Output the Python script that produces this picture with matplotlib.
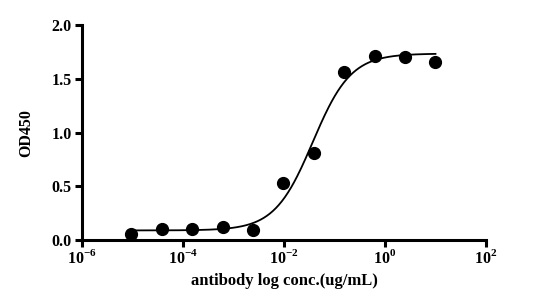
import matplotlib
matplotlib.use('Agg')
import matplotlib.pyplot as plt
import numpy as np

plt.rcParams['font.family'] = ['Liberation Serif', 'DejaVu Serif']
plt.rcParams['font.weight'] = 'bold'
plt.rcParams['mathtext.fontset'] = 'custom'
plt.rcParams['mathtext.rm'] = 'Liberation Serif:bold'
plt.rcParams['mathtext.bf'] = 'Liberation Serif:bold'

# 数据: 抗体浓度 (ug/mL, 4倍稀释) 和 OD450
conc = [10, 2.5, 0.625, 0.156, 0.039, 0.00977, 0.00244, 6.1e-4, 1.53e-4, 3.8e-5, 9.5e-6]
od450 = [1.66, 1.705, 1.715, 1.56, 0.81, 0.533, 0.093, 0.12, 0.10, 0.10, 0.053]

# 四参数拟合曲线参数
bottom, top, log_ec50, hill = 0.09, 1.735, -1.43, 1.15

xfit = np.logspace(np.log10(min(conc)), np.log10(max(conc)), 300)
yfit = bottom + (top - bottom) / (1 + 10 ** ((log_ec50 - np.log10(xfit)) * hill))

fig = plt.figure(figsize=(5.37, 2.99), dpi=100)
ax = fig.add_axes([0.1527, 0.197, 0.7523, 0.719])

ax.plot(xfit, yfit, color='black', lw=1.3, zorder=2)
ax.plot(conc, od450, 'o', color='black', markersize=8.5, zorder=3, clip_on=False)

ax.set_xscale('log')
ax.set_xlim(1e-6, 1e2)
ax.set_ylim(0, 2.0)
ticks = [1e-6, 1e-4, 1e-2, 1e0, 1e2]
ax.set_xticks(ticks)
ax.set_xticklabels([r'$10^{%d}$' % int(np.log10(t)) for t in ticks])
ax.xaxis.set_minor_locator(matplotlib.ticker.NullLocator())
ax.set_yticks([0, 0.5, 1.0, 1.5, 2.0])
ax.set_yticklabels(['0.0', '0.5', '1.0', '1.5', '2.0'])

for s in ['top', 'right']:
    ax.spines[s].set_visible(False)
for s in ['left', 'bottom']:
    ax.spines[s].set_linewidth(2.2)
ax.tick_params(axis='both', width=2.2, length=5, labelsize=11.5, direction='out')
ax.tick_params(axis='x', pad=1.5)
ax.tick_params(axis='y', pad=2.5)

ax.set_xlabel('antibody log conc.(ug/mL)', fontsize=12, fontweight='bold', labelpad=4)
ax.set_ylabel('OD450', fontsize=11.5, fontweight='bold', labelpad=12)

plt.savefig('out.png', dpi=100)
